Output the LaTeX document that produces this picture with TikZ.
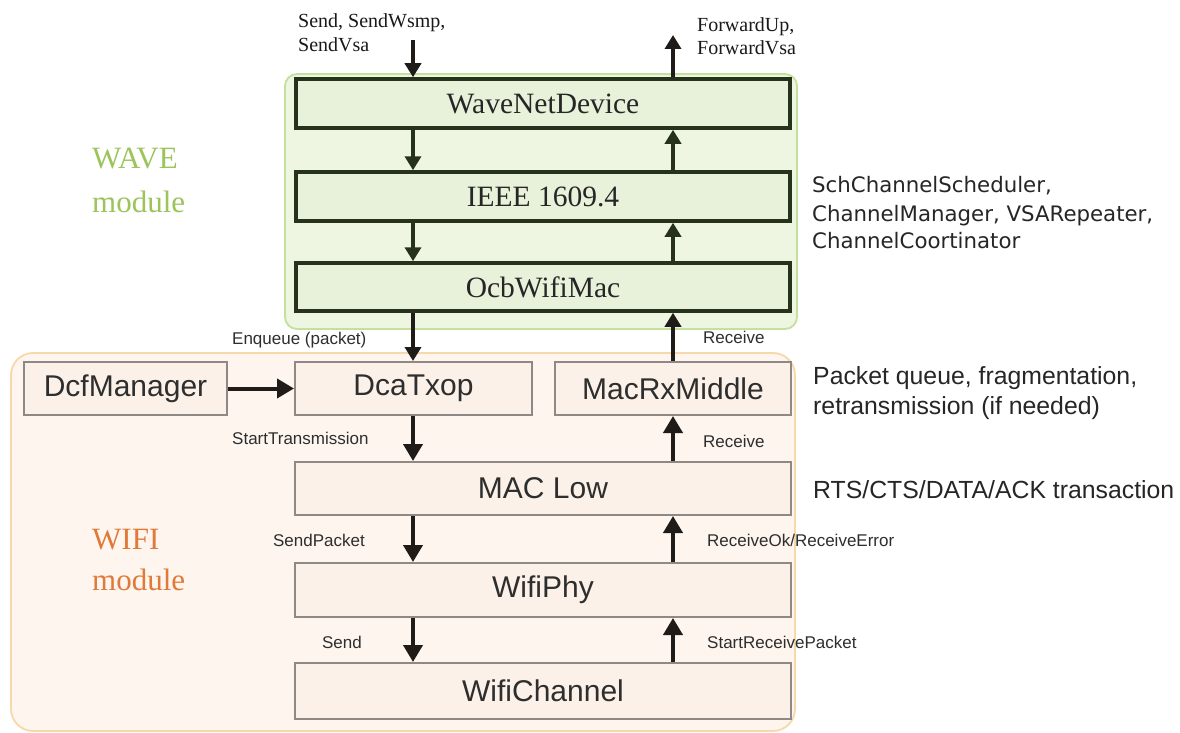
\documentclass[tikz,border=0pt]{standalone}
\usepackage{fontspec}
\setmainfont{Liberation Serif}
\newfontfamily\arialf{Liberation Sans}
\newfontfamily\dejavuf{DejaVu Sans}
\usetikzlibrary{arrows.meta}
\definecolor{wavefill}{HTML}{EEF6E2}
\definecolor{waveborder}{HTML}{C3E09C}
\definecolor{waveboxfill}{HTML}{E8F1DA}
\definecolor{waveboxline}{HTML}{27321C}
\definecolor{wavegreen}{HTML}{9CC45A}
\definecolor{wififill}{HTML}{FDF5EE}
\definecolor{wifiborder}{HTML}{F5D9AA}
\definecolor{wifiboxfill}{HTML}{FBF1E8}
\definecolor{wifiboxline}{HTML}{8E8984}
\definecolor{wifiorange}{HTML}{E07A3A}
\definecolor{txt}{HTML}{2E2E2E}
\definecolor{arrowblack}{HTML}{1E1B18}
\begin{document}
\begin{tikzpicture}[x=1pt,y=-1pt,
  wavebox/.style={draw=waveboxline, line width=3.5pt, fill=waveboxfill,
    minimum width=494pt, minimum height=49pt, inner sep=0pt,
    font=\fontsize{29.5}{32}\selectfont, text=black!85},
  wifibox/.style={draw=wifiboxline, line width=2pt, fill=wifiboxfill,
    minimum height=53pt, inner sep=0pt,
    font=\arialf\fontsize{30}{33}\selectfont, text=txt},
  warrow/.style={draw=waveboxline, line width=4pt, -{Triangle[width=16pt,length=14pt]}},
  farrow/.style={draw=arrowblack, line width=4pt, -{Triangle[width=19pt,length=17pt]}},
  tarrow/.style={draw=arrowblack, line width=4pt, -{Triangle[width=16pt,length=14pt]}},
  slabel/.style={font=\arialf\fontsize{17}{20}\selectfont, text=txt, inner sep=0pt},
  rlabel/.style={font=\arialf\fontsize{24.8}{28}\selectfont, text=black!85, inner sep=0pt, anchor=base west},
  wlabel/.style={font=\dejavuf\fontsize{21.3}{24}\selectfont, text=black!85, inner sep=0pt, anchor=base west},
  tlabel/.style={font=\fontsize{20}{22}\selectfont, text=black!90, inner sep=0pt, anchor=base west},
  modlabel/.style={font=\fontsize{31}{34}\selectfont, inner sep=0pt, anchor=base west}
]
\useasboundingbox (0,0) rectangle (1180,733);
\fill[white] (0,0) rectangle (1180,733);

% containers
\draw[draw=waveborder, line width=1.8pt, fill=wavefill, rounded corners=12pt]
  (285,74) rectangle (797,329);
\draw[draw=wifiborder, line width=1.8pt, fill=wififill, rounded corners=22pt]
  (11,353) rectangle (795,731);

% WAVE boxes
\node[wavebox] (wnd) at (543,103.5) {WaveNetDevice};
\node[wavebox] (ieee) at (543,196.5) {IEEE 1609.4};
\node[wavebox, minimum height=48pt] (ocb) at (543,287) {OcbWifiMac};

% WIFI boxes
\node[wifibox, minimum width=203pt] (dcf) at (125.5,388.5) {DcfManager};
\node[wifibox, minimum width=237pt] (dca) at (413.5,388.5) {DcaTxop};
\node[wifibox, minimum width=236pt] (macrx) at (673,388.5) {MacRxMiddle};
\node[wifibox, minimum width=496pt] (maclow) at (543,488.5) {MAC Low};
\node[wifibox, minimum width=496pt, minimum height=54pt] (phy) at (543,590) {WifiPhy};
\node[wifibox, minimum width=496pt, minimum height=56pt] (chan) at (543,691) {WifiChannel};

% helper coordinates
\coordinate (dx) at (413,0);
\coordinate (ux) at (673,0);
\coordinate (sendin) at (413,40);
\coordinate (fwdout) at (673,35);

% down path
\draw[tarrow] (sendin) -- (wnd.north -| dx);
\draw[warrow] (wnd.south -| dx) -- (ieee.north -| dx);
\draw[warrow] (ieee.south -| dx) -- (ocb.north -| dx);
\draw[tarrow] (ocb.south -| dx) -- (dca.north -| dx);
\draw[farrow] (dcf.east) -- (dca.west);
\draw[farrow] (dca.south -| dx) -- (maclow.north -| dx);
\draw[farrow] (maclow.south -| dx) -- (phy.north -| dx);
\draw[farrow] (phy.south -| dx) -- (chan.north -| dx);

% up path
\draw[farrow] (chan.north -| ux) -- (phy.south -| ux);
\draw[farrow] (phy.north -| ux) -- (maclow.south -| ux);
\draw[farrow] (maclow.north -| ux) -- (macrx.south -| ux);
\draw[tarrow] (macrx.north -| ux) -- (ocb.south -| ux);
\draw[warrow] (ocb.north -| ux) -- (ieee.south -| ux);
\draw[warrow] (ieee.north -| ux) -- (wnd.south -| ux);
\draw[tarrow] (wnd.north -| ux) -- (fwdout);

% top labels
\node[tlabel] (ts1) at (298,28) {Send, SendWsmp,};
\node[tlabel] (ts2) at (298,52) {SendVsa};
\node[tlabel] (tf1) at (697,32) {ForwardUp,};
\node[tlabel] (tf2) at (697,55) {ForwardVsa};

% module labels
\node[modlabel, text=wavegreen] (wv1) at (92,168) {WAVE};
\node[modlabel, text=wavegreen] (wv2) at (92,212) {module};
\node[modlabel, text=wifiorange] (wf1) at (92,549) {WIFI};
\node[modlabel, text=wifiorange] (wf2) at (92,590) {module};

% WAVE side text
\node[wlabel] (w1) at (812,192) {SchChannelScheduler,};
\node[wlabel] (w2) at (812,221) {ChannelManager, VSARepeater,};
\node[wlabel] (w3) at (812,248) {ChannelCoortinator};

% connector labels
\node[slabel, anchor=base west] (l1) at (232,344) {Enqueue (packet)};
\node[slabel, anchor=base west] (l2) at (703,343) {Receive};
\node[slabel, anchor=base west] (l3) at (232,444) {StartTransmission};
\node[slabel, anchor=base west] (l4) at (703,447) {Receive};
\node[slabel, anchor=base east] (l5) at (365,546) {SendPacket};
\node[slabel, anchor=base west] (l6) at (707,546) {ReceiveOk/ReceiveError};
\node[slabel, anchor=base east] (l7) at (362,648) {Send};
\node[slabel, anchor=base west] (l8) at (707,648) {StartReceivePacket};

% WIFI side text
\node[rlabel] (r1) at (813,384) {Packet queue, fragmentation,};
\node[rlabel] (r2) at (813,414) {retransmission (if needed)};
\node[rlabel] (r3) at (813,498) {RTS/CTS/DATA/ACK transaction};
\end{tikzpicture}
\end{document}
